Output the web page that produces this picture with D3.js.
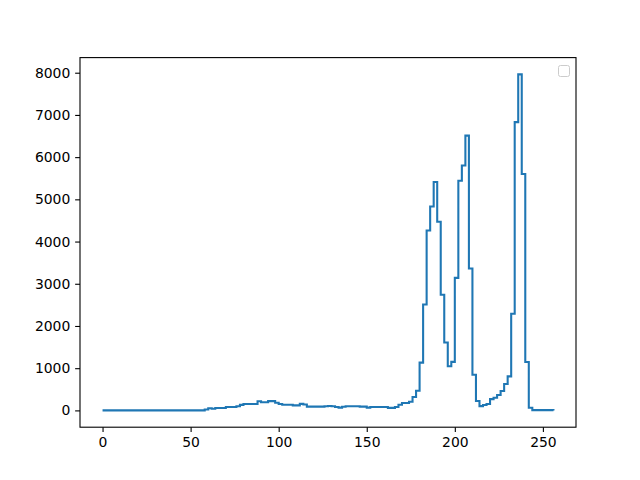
<!DOCTYPE html>
<html><head><meta charset="utf-8">
<script src="https://cdn.jsdelivr.net/npm/d3@7"></script>
<style>body{margin:0;background:#fff}svg{display:block}text{font-family:"DejaVu Sans",sans-serif}</style>
</head><body>
<svg id="c" width="640" height="480"></svg>
<script>
const binEdges = d3.range(0, 257, 2);
const counts = [
  0,0,0,0,0,0,0,0,0,0,            // 0-18
  0,0,0,0,0,0,0,0,0,0,            // 20-38
  0,0,0,0,0,0,0,0,0,20,           // 40-58
  50,40,55,55,55,80,80,80,100,130,      // 60-78
  150,150,150,150,215,195,195,220,220,180, // 80-98
  150,135,135,135,120,120,155,140,90,90,   // 100-118
  90,90,90,100,105,100,80,65,85,100,       // 120-138
  100,100,100,90,90,65,80,80,80,80,        // 140-158
  80,60,60,80,135,174,174,206,316,467,     // 160-178
  1132,2510,4260,4830,5410,4470,2740,1610,1045,1150, // 180-198
  3140,5440,5800,6510,3360,845,221,102,126,150,      // 200-218
  268,300,364,459,625,807,2290,6830,7960,5600,       // 220-238
  1147,64,6,6,6,6,6,6                               // 240-254
];
const xTicks = [0, 50, 100, 150, 200, 250];
const yTicks = [0, 1000, 2000, 3000, 4000, 5000, 6000, 7000, 8000];

const svg = d3.select("#c");
const L = 80, R = 576, T = 57.6, B = 427.2;
const xMin = 0, xMax = 256, yMax = d3.max(counts);
const xPad = (xMax - xMin) * 0.05, yPad = yMax * 0.05;
const x = d3.scaleLinear().domain([xMin - xPad, xMax + xPad]).range([L, R]);
const y = d3.scaleLinear().domain([-yPad, yMax + yPad]).range([B, T]);

// step outline
const pts = [[binEdges[0], 0]];
counts.forEach((c, i) => { pts.push([binEdges[i], c]); pts.push([binEdges[i + 1], c]); });
pts.push([binEdges[binEdges.length - 1], 0]);
svg.append("path")
  .attr("d", d3.line().x(d => x(d[0])).y(d => y(d[1]))(pts))
  .attr("fill", "none").attr("stroke", "#1f77b4").attr("stroke-width", 2.08)
  .attr("stroke-linejoin", "miter");

const fs = 13.9;
const xAxis = d3.axisBottom(x).tickValues(xTicks).tickFormat(d3.format("d")).tickSizeInner(4.86).tickSizeOuter(0).tickPadding(4.86);
const gx = svg.append("g").attr("transform", `translate(0,${B})`).call(xAxis);
gx.select(".domain").remove();
gx.selectAll("text").attr("font-size", fs).attr("fill", "#000").attr("font-family", "DejaVu Sans");
gx.selectAll("line").attr("stroke", "#000").attr("stroke-width", 1.1);

const yAxis = d3.axisLeft(y).tickValues(yTicks).tickFormat(d3.format("d")).tickSizeInner(4.86).tickSizeOuter(0).tickPadding(4.86);
const gy = svg.append("g").attr("transform", `translate(${L},0)`).call(yAxis);
gy.select(".domain").remove();
gy.selectAll("text").attr("font-size", fs).attr("fill", "#000").attr("font-family", "DejaVu Sans");
gy.selectAll("line").attr("stroke", "#000").attr("stroke-width", 1.1);

// frame
svg.append("rect").attr("x", L).attr("y", T).attr("width", R - L).attr("height", B - T)
  .attr("fill", "none").attr("stroke", "#000").attr("stroke-width", 1.1);

// empty legend box
svg.append("rect").attr("x", 558.5).attr("y", 65.5).attr("width", 11).attr("height", 11)
  .attr("rx", 2).attr("fill", "#fff").attr("fill-opacity", 0.8)
  .attr("stroke", "#cccccc").attr("stroke-width", 1);
</script>
</body></html>
